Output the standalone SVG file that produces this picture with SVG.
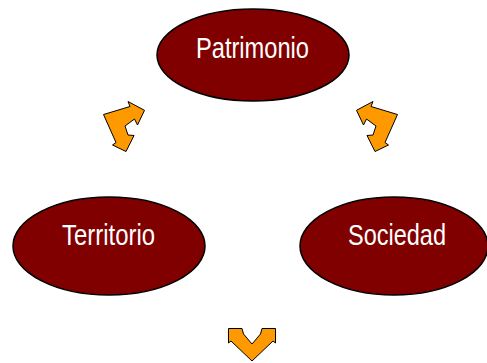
<svg xmlns="http://www.w3.org/2000/svg" width="487" height="363" viewBox="0 0 487 363">
<style>
.node ellipse{fill:#800000;stroke:#000;stroke-width:1.5}
.node text{fill:#fff;font-family:"Liberation Sans Narrow","Liberation Sans",sans-serif;font-size:29px;text-anchor:middle}
.arr{fill:#FF9900;stroke:#000;stroke-width:1;stroke-linejoin:miter}
</style>
<defs>
<polygon id="bent" class="arr" points="103.5,114.5 130,106.5 128,101.5 144.5,110.3 137.5,125 134.5,119 125,126 128,135 134,135.5 126,151.5 112.5,145 116,142.5"/>
</defs>
<rect width="487" height="363" fill="#fff"/>
<g id="connectors">
<use href="#bent"/>
<use href="#bent" transform="translate(501,0) scale(-1,1)"/>
<polygon class="arr" points="228.5,328.5 242,328.5 243.5,334 252,344 260.5,334 262,328.5 275.5,328.5 275.5,343 273,341 252,361 231,341 228.5,343"/>
</g>
<g id="patrimonio" class="node">
<ellipse cx="253" cy="55" rx="96" ry="46"/>
<text x="252.5" y="58" textLength="113" lengthAdjust="spacingAndGlyphs">Patrimonio</text>
</g>
<g id="territorio" class="node">
<ellipse cx="109" cy="246" rx="96" ry="49"/>
<text x="108.5" y="245" textLength="93" lengthAdjust="spacingAndGlyphs">Territorio</text>
</g>
<g id="sociedad" class="node">
<ellipse cx="394" cy="246" rx="94" ry="49"/>
<text x="397" y="245" textLength="98" lengthAdjust="spacingAndGlyphs">Sociedad</text>
</g>
</svg>
